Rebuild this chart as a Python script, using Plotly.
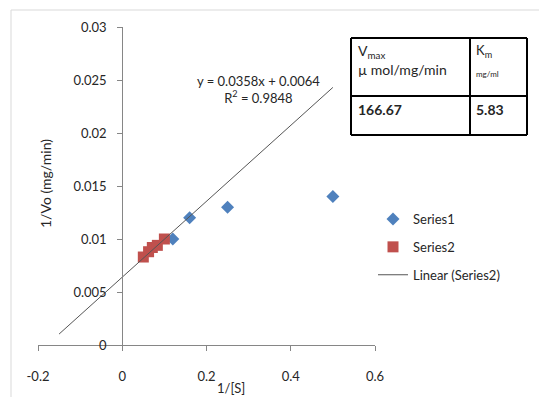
import plotly.graph_objects as go

# ---- data ----
s1_x = [0.12, 0.16, 0.25, 0.5]
s1_y = [0.010, 0.012, 0.013, 0.014]
s2_x = [0.05, 0.0625, 0.0714, 0.0833, 0.1]
s2_y = [0.0083, 0.0088, 0.0092, 0.0094, 0.0100]
slope = 0.0358
intercept = 0.0064
fit_x = [-0.15, 0.5]
x_ticks = [-0.2, 0, 0.2, 0.4, 0.6]
x_tick_text = ["-0.2", "0", "0.2", "0.4", "0.6"]
y_ticks = [0, 0.005, 0.01, 0.015, 0.02, 0.025, 0.03]
y_tick_text = ["0", "0.005", "0.01", "0.015", "0.02", "0.025", "0.03"]
table_head = ["V<sub>max</sub>", "K<sub>m</sub>"]
table_vals = ["166.67", "5.83"]

W, H = 539, 397
L, R, T, B = 38, 164, 27, 52
PW, PH = W - L - R, H - T - B

def px(x):
    return (x - L) / PW

def py(y):
    return (H - B - y) / PH

FONT = "Lato"
TXT = "#262626"

fig = go.Figure()
fig.add_trace(go.Scatter(x=s1_x, y=s1_y, mode="markers", name="Series1",
                         marker=dict(symbol="diamond", size=10, color="#4F81BD"),
                         legendgroup="a"))
fig.add_trace(go.Scatter(x=s2_x, y=s2_y, mode="markers", name="Series2",
                         marker=dict(symbol="square", size=11, color="#C0504D"),
                         legendgroup="b"))
fig.add_trace(go.Scatter(x=fit_x, y=[slope * v + intercept for v in fit_x], mode="lines",
                         name="Linear (Series2)", line=dict(color="#555555", width=1),
                         legendgroup="c"))

fig.update_layout(
    width=W, height=H, margin=dict(l=L, r=R, t=T, b=B),
    paper_bgcolor="white", plot_bgcolor="white",
    font=dict(family=FONT, size=13, color=TXT),
    xaxis=dict(range=[-0.2, 0.6], tickvals=x_ticks, ticktext=x_tick_text,
               showgrid=False, zeroline=False, showline=True, linecolor="#868686",
               ticks="outside", ticklen=5, tickcolor="#868686", ticklabelstandoff=14),
    yaxis=dict(range=[0, 0.03], tickvals=y_ticks, ticktext=y_tick_text,
               showgrid=False, zeroline=False, showline=True, linecolor="#868686",
               ticks="outside", ticklen=5, tickcolor="#868686", ticklabelstandoff=8,
               anchor="free", position=0.25),
    showlegend=True,
    legend=dict(x=px(373), y=py(204), xanchor="left", yanchor="top",
                traceorder="grouped", tracegroupgap=8, font=dict(size=13),
                itemwidth=30, bgcolor="rgba(0,0,0,0)"),
)

# outer chart border
fig.add_shape(type="rect", xref="paper", yref="paper",
              x0=px(11), x1=px(560), y0=py(420), y1=py(10),
              line=dict(color="#D9D9D9", width=1))

# axis titles
fig.add_annotation(text="1/Vo (mg/min)", xref="paper", yref="paper", x=px(45), y=py(184),
                   xanchor="center", yanchor="middle",
                   textangle=-90, showarrow=False, font=dict(size=14))
fig.add_annotation(text="1/[S]", xref="paper", yref="paper", x=px(231), y=py(388),
                   xanchor="center", yanchor="middle", showarrow=False, font=dict(size=13))

# trendline label
fig.add_annotation(text="y = 0.0358x + 0.0064<br>R<sup>2</sup> = 0.9848", xref="paper", yref="paper",
                   x=px(258), y=py(90), xanchor="center", yanchor="middle",
                   showarrow=False, font=dict(size=13), align="center")

# table
tl, tr, tm = 351, 527, 470
tt, tb, tmid = 38, 135, 96
for (x0, x1, y0, y1) in [(tl, tr, tt, tt), (tl, tr, tmid, tmid), (tl, tr, tb, tb),
                         (tl, tl, tt, tb), (tm, tm, tt, tb), (tr, tr, tt, tb)]:
    fig.add_shape(type="line", xref="paper", yref="paper",
                  x0=px(x0), x1=px(x1), y0=py(y0), y1=py(y1),
                  line=dict(color="black", width=2))
fig.add_annotation(text="V<sub>max</sub>", xref="paper", yref="paper", x=px(356), y=py(40),
                   xanchor="left", yanchor="top", showarrow=False, font=dict(size=14))
fig.add_annotation(text="µ mol/mg/min", xref="paper", yref="paper", x=px(356), y=py(59),
                   xanchor="left", yanchor="top", showarrow=False, font=dict(size=14))
fig.add_annotation(text="K<sub>m</sub>", xref="paper", yref="paper", x=px(474), y=py(40),
                   xanchor="left", yanchor="top", showarrow=False, font=dict(size=13))
fig.add_annotation(text="mg/ml", xref="paper", yref="paper", x=px(474), y=py(67),
                   xanchor="left", yanchor="top", showarrow=False, font=dict(size=8))
fig.add_annotation(text="<b>%s</b>" % table_vals[0], xref="paper", yref="paper", x=px(356), y=py(99),
                   xanchor="left", yanchor="top", showarrow=False, font=dict(size=14))
fig.add_annotation(text="<b>%s</b>" % table_vals[1], xref="paper", yref="paper", x=px(474), y=py(99),
                   xanchor="left", yanchor="top", showarrow=False, font=dict(size=14))

fig.write_html("out.html")
